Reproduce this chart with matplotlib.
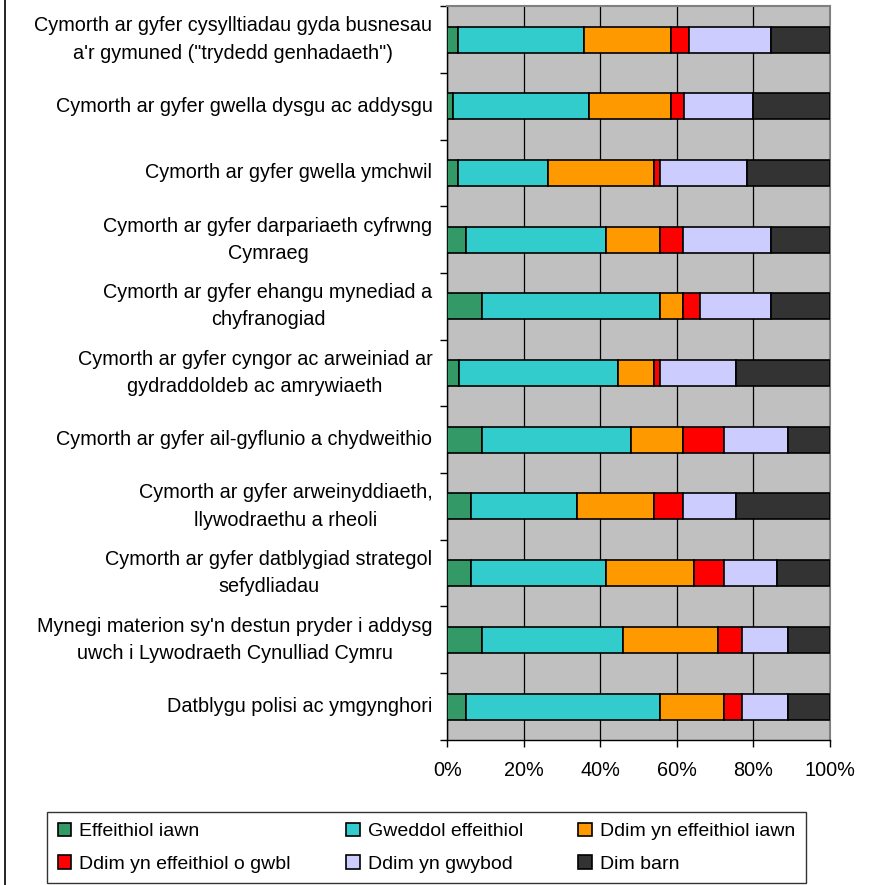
import numpy as np
import matplotlib.pyplot as plt
from matplotlib.lines import Line2D

plt.rcParams['font.family'] = ['Liberation Sans', 'DejaVu Sans']

categories = [
    'Cymorth ar gyfer cysylltiadau gyda busnesau\na\'r gymuned ("trydedd genhadaeth")',
    'Cymorth ar gyfer gwella dysgu ac addysgu',
    'Cymorth ar gyfer gwella ymchwil',
    'Cymorth ar gyfer darpariaeth cyfrwng\nCymraeg',
    'Cymorth ar gyfer ehangu mynediad a\nchyfranogiad',
    'Cymorth ar gyfer cyngor ac arweiniad ar\ngydraddoldeb ac amrywiaeth',
    'Cymorth ar gyfer ail-gyflunio a chydweithio',
    'Cymorth ar gyfer arweinyddiaeth,\nllywodraethu a rheoli',
    'Cymorth ar gyfer datblygiad strategol\nsefydliadau',
    "Mynegi materion sy'n destun pryder i addysg\nuwch i Lywodraeth Cynulliad Cymru",
    'Datblygu polisi ac ymgynghori',
]

series = ['Effeithiol iawn', 'Gweddol effeithiol', 'Ddim yn effeithiol iawn',
          'Ddim yn effeithiol o gwbl', 'Ddim yn gwybod', 'Dim barn']

# percentages, one list per series, same order as categories
effeithiol_iawn = [2.9, 1.4, 2.9, 4.8, 9.1, 3.1, 9.1, 6.2, 6.2, 9.1, 4.9]
gweddol = [32.7, 35.5, 23.5, 36.7, 46.4, 41.4, 38.8, 27.8, 35.3, 36.9, 50.7]
ddim_iawn = [22.8, 21.5, 27.6, 14.0, 6.2, 9.5, 13.8, 20.0, 23.1, 24.8, 16.7]
ddim_gwbl = [4.8, 3.4, 1.6, 6.2, 4.3, 1.6, 10.6, 7.7, 7.7, 6.3, 4.8]
ddim_gwybod = [21.4, 18.2, 22.8, 22.9, 18.6, 20.0, 16.8, 13.9, 13.8, 12.0, 12.0]
dim_barn = [15.4, 20.0, 21.6, 15.4, 15.4, 24.4, 10.9, 24.4, 13.9, 10.9, 10.9]

colors = ['#339966', '#33CCCC', '#FF9900', '#FF0000', '#CCCCFF', '#333333']

data = np.array([effeithiol_iawn, gweddol, ddim_iawn, ddim_gwbl, ddim_gwybod, dim_barn])
data = data / data.sum(axis=0) * 100

fig = plt.figure(figsize=(8.79, 8.85), dpi=100)
ax = fig.add_axes([0.509, 0.164, 0.435, 0.829])
ax.set_facecolor('#C0C0C0')

y = np.arange(len(categories))
left = np.zeros(len(categories))
for vals, name, col in zip(data, series, colors):
    ax.barh(y, vals, left=left, height=0.39, color=col, edgecolor='black',
            linewidth=1.2, label=name, zorder=3)
    left += vals

ax.set_xlim(0, 100)
ax.set_ylim(len(categories) - 0.5, -0.5)
ax.set_xticks(np.arange(0, 101, 20))
ax.set_xticklabels([f'{v}%' for v in range(0, 101, 20)], fontsize=14.3)
ax.xaxis.grid(True, color='black', linewidth=0.9, zorder=1)
ax.set_axisbelow(True)
ax.tick_params(axis='x', length=5, width=1, pad=10)

# category labels drawn as text so line spacing sticks
ax.set_yticks(y)
ax.set_yticklabels([])
ax.tick_params(axis='y', which='major', length=0)
ax.set_yticks(np.arange(-0.5, len(categories), 1), minor=True)
ax.tick_params(axis='y', which='minor', length=5, width=1)
trans = ax.get_yaxis_transform()
for yi, lab in zip(y, categories):
    ax.text(-0.039, yi, lab, transform=trans, ha='right', va='center',
            multialignment='center', linespacing=1.55, fontsize=14.3)

for s in ['top', 'right']:
    ax.spines[s].set_color('#808080')
    ax.spines[s].set_linewidth(1.5)
ax.spines['left'].set_linewidth(1)
ax.spines['bottom'].set_linewidth(1)

handles, labels = ax.get_legend_handles_labels()
order = [0, 3, 1, 4, 2, 5]
leg = fig.legend([handles[i] for i in order], [labels[i] for i in order],
                 loc='lower left', bbox_to_anchor=(0.0535, 0.002, 0.863, 0.085),
                 mode='expand', ncol=3, fontsize=14, frameon=True, fancybox=False,
                 edgecolor='black', handlelength=0.7, handleheight=0.7,
                 handletextpad=0.4, borderaxespad=0, labelspacing=0.75,
                 borderpad=0.55)
leg.get_frame().set_linewidth(1)

fig.add_artist(Line2D([0.0057, 0.0057], [0, 1], color='black', linewidth=1.2))

fig.savefig('out.png', dpi=100)
